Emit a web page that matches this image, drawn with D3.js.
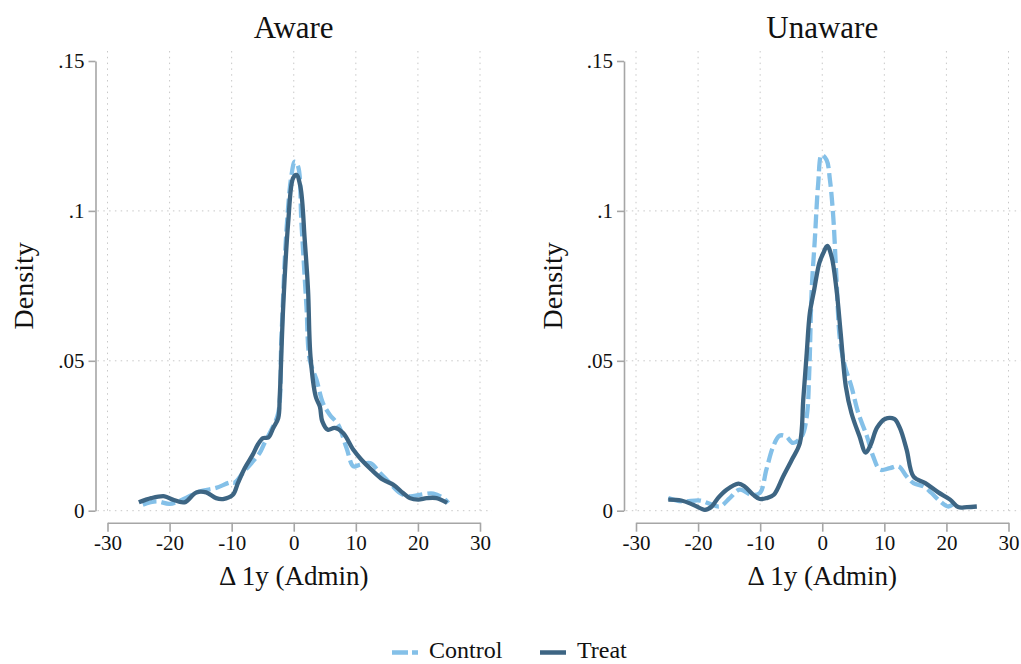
<!DOCTYPE html>
<html>
<head>
<meta charset="utf-8">
<script src="https://cdn.jsdelivr.net/npm/d3@7/dist/d3.min.js"></script>
<style>
  html, body { margin: 0; padding: 0; background: #fff; }
  svg { display: block; }
  svg text { font-family: "Liberation Serif", "Times New Roman", serif !important; fill: #111; }
</style>
</head>
<body>
<svg id="chart" width="1021" height="664"></svg>
<script>
// Kernel density of the 1-year change (admin data), by awareness group
const panelTitles = ["Aware", "Unaware"];
const seriesNames = ["Control", "Treat"];
const xTicks = [-30, -20, -10, 0, 10, 20, 30];
const yTicks = [0, 0.05, 0.1, 0.15];
const yTickLabels = ["0", ".05", ".1", ".15"];
const yGridTicks = [0, 0.05, 0.1];

// [x, density] pairs
const awareControl = [
  [-24.3, 0.0020], [-22.1, 0.0031], [-20.0, 0.0023], [-17.9, 0.0037], [-15.2, 0.0064],
  [-12.5, 0.0076], [-10.3, 0.0094], [-9.5, 0.0094], [-8.2, 0.0126], [-6.8, 0.0159],
  [-5.5, 0.0192], [-4.7, 0.0226], [-3.6, 0.0270], [-2.5, 0.0326], [-2.0, 0.0570],
  [-1.2, 0.0926], [-0.4, 0.1114], [0.16, 0.1164], [0.7, 0.1148], [1.24, 0.0959],
  [2.05, 0.0680], [2.58, 0.0503], [3.66, 0.0437], [4.7, 0.0359], [5.8, 0.0320],
  [7.15, 0.0287], [8.5, 0.0209], [9.6, 0.0148], [10.6, 0.0153], [12.3, 0.0159],
  [13.9, 0.0126], [15.5, 0.0092], [17.1, 0.0059], [18.7, 0.0048], [20.3, 0.0053],
  [22.5, 0.0057], [24.1, 0.0042], [24.9, 0.0026]
];
const awareTreat = [
  [-24.95, 0.0028], [-22.95, 0.0042], [-20.8, 0.0048], [-19.5, 0.0037], [-17.6, 0.0028],
  [-15.7, 0.0061], [-14.1, 0.0061], [-12.5, 0.0042], [-11.4, 0.0039], [-9.8, 0.0053],
  [-9.0, 0.0092], [-7.9, 0.0142], [-6.6, 0.0187], [-5.8, 0.0220], [-4.95, 0.0242],
  [-4.1, 0.0244], [-3.3, 0.0276], [-2.5, 0.0309], [-2.26, 0.0380], [-1.7, 0.0680],
  [-0.9, 0.0960], [-0.1, 0.1110], [0.43, 0.1120], [1.08, 0.1080], [1.77, 0.0903],
  [2.3, 0.0737], [2.7, 0.0514], [3.55, 0.0380], [4.2, 0.0348], [4.6, 0.0298],
  [5.5, 0.0270], [6.6, 0.0276], [7.95, 0.0259], [9.6, 0.0203], [10.9, 0.0170],
  [12.5, 0.0137], [14.4, 0.0103], [16.0, 0.0087], [17.6, 0.0059], [18.7, 0.0042],
  [20.05, 0.0037], [21.4, 0.0042], [23.0, 0.0042], [24.7, 0.0026]
];
const unawareControl = [
  [-24.8, 0.0042], [-22.6, 0.0031], [-19.7, 0.0034], [-18.1, 0.0023], [-16.5, 0.0014],
  [-14.9, 0.0042], [-13.3, 0.0070], [-11.4, 0.0053], [-10.05, 0.0059], [-9.0, 0.0137],
  [-7.9, 0.0214], [-6.9, 0.0250], [-5.85, 0.0248], [-4.7, 0.0226], [-3.3, 0.0248],
  [-2.5, 0.0314], [-2.1, 0.0459], [-1.7, 0.0737], [-1.2, 0.0903], [-0.65, 0.1092],
  [-0.1, 0.1187], [0.7, 0.1170], [1.24, 0.1103], [1.77, 0.0981], [2.3, 0.0770],
  [2.85, 0.0570], [3.66, 0.0481], [4.7, 0.0414], [5.8, 0.0326], [7.2, 0.0248],
  [8.2, 0.0181], [9.3, 0.0137], [10.9, 0.0142], [12.3, 0.0148], [13.6, 0.0114],
  [14.7, 0.0092], [16.3, 0.0081], [17.6, 0.0059], [19.0, 0.0031], [20.3, 0.0014],
  [21.7, 0.0031]
];
const unawareTreat = [
  [-24.8, 0.0037], [-22.7, 0.0034], [-20.8, 0.0020], [-18.9, 0.0003], [-17.8, 0.0014],
  [-16.8, 0.0042], [-15.4, 0.0070], [-13.5, 0.0090], [-12.5, 0.0081], [-11.1, 0.0053],
  [-10.05, 0.0039], [-9.0, 0.0042], [-7.8, 0.0053], [-6.3, 0.0114], [-4.9, 0.0170],
  [-3.6, 0.0226], [-3.06, 0.0370], [-2.5, 0.0526], [-2.0, 0.0659], [-1.3, 0.0737],
  [-0.48, 0.0826], [0.16, 0.0859], [0.8, 0.0883], [1.5, 0.0848], [2.3, 0.0737],
  [2.97, 0.0592], [3.8, 0.0414], [4.7, 0.0326], [6.0, 0.0248], [7.0, 0.0194],
  [7.8, 0.0220], [8.8, 0.0276], [10.1, 0.0306], [11.6, 0.0306], [12.5, 0.0276],
  [13.6, 0.0203], [14.7, 0.0114], [16.6, 0.0092], [18.7, 0.0061], [20.6, 0.0037],
  [21.9, 0.0012], [23.3, 0.0012], [24.9, 0.0014]
];

const panelData = [
  [awareControl, awareTreat],
  [unawareControl, unawareTreat]
];

const colors = { Control: "#84c0e8", Treat: "#3d6583" };
const dashes = { Control: "14,5", Treat: null };
const axisColor = "#a6a6a6";
const gridColor = "#c8c8c8";
const serif = '"Liberation Serif", "Times New Roman", serif';

const svg = d3.select("#chart");

// Panel geometry: x range of the data axis for each panel
const panelX = [[107.5, 480], [636, 1008.5]];
const yTop = 61, yBottom = 510.7;
const axisGap = 12;

panelTitles.forEach((title, i) => {
  const [x0, x1] = panelX[i];
  const x = d3.scaleLinear().domain([-30, 30]).range([x0, x1]);
  const y = d3.scaleLinear().domain([0, 0.15]).range([yBottom, yTop]);
  const g = svg.append("g");

  const plotLeft = x0 - axisGap + 2, plotRight = x1 + 12;

  // Grid
  g.append("g").selectAll("line").data(xTicks).join("line")
    .attr("x1", d => x(d)).attr("x2", d => x(d))
    .attr("y1", 51).attr("y2", yBottom + 2)
    .attr("stroke", gridColor).attr("stroke-width", 1)
    .attr("stroke-dasharray", "1.5,4.3");
  g.append("g").selectAll("line").data(yGridTicks).join("line")
    .attr("x1", plotLeft).attr("x2", plotRight)
    .attr("y1", d => y(d)).attr("y2", d => y(d))
    .attr("stroke", gridColor).attr("stroke-width", 1)
    .attr("stroke-dasharray", "1.5,4.3");

  // Axes
  const yAxis = d3.axisLeft(y).tickValues(yTicks)
    .tickFormat((d, k) => yTickLabels[k]).tickSize(7).tickPadding(4).tickSizeOuter(0);
  const ya = g.append("g").attr("transform", `translate(${x0 - axisGap},0)`).call(yAxis);
  const xAxis = d3.axisBottom(x).tickValues(xTicks).tickSize(9).tickPadding(3).tickSizeOuter(0);
  const xa = g.append("g").attr("transform", `translate(0,${yBottom + axisGap})`).call(xAxis);
  [ya, xa].forEach(a => {
    a.attr("font-family", serif).attr("font-size", 21);
    a.select(".domain").attr("stroke", axisColor).attr("stroke-width", 1.6);
    a.selectAll(".tick line").attr("stroke", axisColor).attr("stroke-width", 1.6);
    a.selectAll(".tick text").style("font-family", serif).attr("font-size", 21).attr("fill", "#111");
  });
  xa.selectAll(".tick text").text(d => d < 0 ? "-" + Math.abs(d) : String(d));

  // Curves
  const line = d3.line().x(d => x(d[0])).y(d => y(d[1])).curve(d3.curveCatmullRom.alpha(0.5));
  seriesNames.forEach((name, s) => {
    g.append("path")
      .datum(panelData[i][s])
      .attr("d", line)
      .attr("fill", "none")
      .attr("stroke", colors[name])
      .attr("stroke-width", 4.3)
      .attr("stroke-linejoin", "round")
      .attr("stroke-dasharray", dashes[name]);
  });

  // Titles
  g.append("text").attr("x", x(0)).attr("y", 37.7)
    .attr("text-anchor", "middle").attr("font-size", 31).text(title);
  g.append("text").attr("x", x(0)).attr("y", 585)
    .attr("text-anchor", "middle").attr("font-size", 27).text("Δ 1y (Admin)");
  g.append("text")
    .attr("transform", `translate(${x0 - 74.5},${(yTop + yBottom) / 2}) rotate(-90)`)
    .attr("text-anchor", "middle").attr("font-size", 28).text("Density");
});

// Legend
const legend = svg.append("g");
const legendItems = [
  { name: "Control", x: 392 },
  { name: "Treat", x: 540 }
];
legendItems.forEach(it => {
  legend.append("line")
    .attr("x1", it.x).attr("x2", it.x + 26)
    .attr("y1", 652.5).attr("y2", 652.5)
    .attr("stroke", colors[it.name]).attr("stroke-width", 4.5)
    .attr("stroke-dasharray", it.name === "Control" ? "16,4" : null);
  legend.append("text").attr("x", it.x + 37).attr("y", 658)
    .attr("font-size", 24).text(it.name);
});
</script>
</body>
</html>
